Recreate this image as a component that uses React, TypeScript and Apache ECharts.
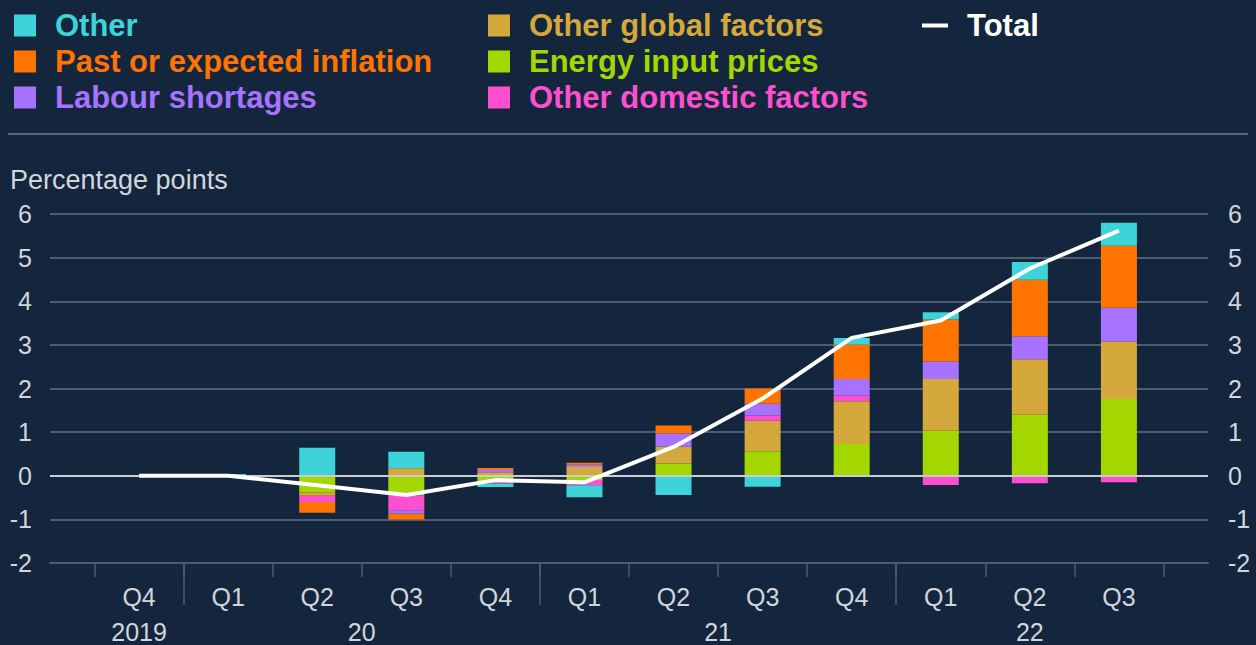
import React, { useEffect, useRef } from "react";
import * as echarts from "echarts";

// ---------- data ----------
const quarters = ["Q4", "Q1", "Q2", "Q3", "Q4", "Q1", "Q2", "Q3", "Q4", "Q1", "Q2", "Q3"];
const yearLabels = ["2019", "20", "21", "22"];
const yearCenters = [0, 2.5, 6.5, 10];
const yearBoundaries = [0.5, 4.5, 8.5];

const energyInputPrices = [0, 0, -0.38, -0.45, -0.12, -0.1, 0.28, 0.56, 0.73, 1.03, 1.4, 1.76];
const otherGlobalFactors = [0, 0, -0.08, 0.17, 0.08, 0.2, 0.39, 0.7, 0.98, 1.19, 1.27, 1.32];
const otherDomesticFactors = [0, 0, -0.14, -0.34, -0.06, -0.12, 0, 0.12, 0.13, -0.21, -0.17, -0.15];
const labourShortages = [0, 0, 0, -0.08, 0.05, 0.05, 0.3, 0.27, 0.38, 0.4, 0.53, 0.77];
const pastOrExpectedInflation = [0, -0.02, -0.25, -0.13, 0.05, 0.05, 0.18, 0.35, 0.79, 0.96, 1.29, 1.42];
const other = [0, 0.04, 0.64, 0.38, -0.08, -0.27, -0.44, -0.25, 0.15, 0.17, 0.41, 0.53];
const total = [0, 0, -0.22, -0.44, -0.1, -0.15, 0.66, 1.77, 3.16, 3.56, 4.75, 5.62];

const yMin = -2;
const yMax = 6;

// ---------- styles ----------
const BG = "#13263e";
const GRID = "#4c5c72";
const ZERO = "#c9ccd1";
const TXT = "#d2d5da";
const FONT = "'Liberation Sans', Arial, sans-serif";

const C_OTHER = "#3dd3d8";
const C_PAST = "#ff7300";
const C_LABOUR = "#a772ff";
const C_GLOBAL = "#d4a83b";
const C_ENERGY = "#a4d600";
const C_DOMESTIC = "#ff4fcf";

export default function App() {
  const ref = useRef<HTMLDivElement>(null);

  useEffect(() => {
    if (!ref.current) return;
    const chart = echarts.init(ref.current, undefined, { renderer: "svg" });

    const quarterTickPos = quarters.map((_, i) => i - 0.5).concat([quarters.length - 0.5]);
    const quarterLabelPos = quarters.map((_, i) => i);

    const gridTop = 214;
    const gridBottom = 82;
    const outerLeft = 50;
    const outerRight = 48;
    const slot = (1256 - outerLeft - outerRight) / (quarters.length + 1);

    const barSeries = (name: string, data: number[], color: string) => ({
      name,
      type: "bar",
      stack: "total",
      xAxisIndex: 2,
      yAxisIndex: 2,
      barWidth: 36,
      data,
      itemStyle: { color },
      z: 2,
    });

    const legendBase = {
      orient: "vertical",
      padding: 0,
      itemGap: 5,
      icon: "rect",
      selectedMode: false,
      textStyle: {
        fontFamily: FONT,
        fontSize: 31,
        fontWeight: "bold",
        lineHeight: 31,
        padding: [0, 0, 0, 14],
      },
    };

    const axisLabelStyle = { color: TXT, fontSize: 25, fontFamily: FONT };

    chart.setOption({
      animation: false,
      backgroundColor: BG,
      textStyle: { fontFamily: FONT },
      legend: [
        {
          ...legendBase,
          left: 14,
          top: 10,
          itemWidth: 22,
          itemHeight: 22,
          data: [
            { name: "Other", textStyle: { color: C_OTHER } },
            { name: "Past or expected inflation", textStyle: { color: C_PAST } },
            { name: "Labour shortages", textStyle: { color: C_LABOUR } },
          ],
        },
        {
          ...legendBase,
          left: 488,
          top: 10,
          itemWidth: 22,
          itemHeight: 22,
          data: [
            { name: "Other global factors", textStyle: { color: C_GLOBAL } },
            { name: "Energy input prices", textStyle: { color: C_ENERGY } },
            { name: "Other domestic factors", textStyle: { color: C_DOMESTIC } },
          ],
        },
        {
          ...legendBase,
          left: 922,
          top: 10,
          itemWidth: 26,
          itemHeight: 4,
          itemStyle: { color: "#ffffff" },
          data: [{ name: "Total", textStyle: { color: "#ffffff" } }],
        },
      ],
      graphic: [
        {
          type: "line",
          shape: { x1: 8, y1: 134, x2: 1248, y2: 134 },
          style: { stroke: "#56667d", lineWidth: 2 },
        },
        {
          type: "text",
          x: 10,
          y: 180,
          style: {
            text: "Percentage points",
            fill: TXT,
            font: `27px ${FONT}`,
            verticalAlign: "middle",
          },
        },
      ],
      grid: [
        { left: outerLeft, right: outerRight, top: gridTop, bottom: gridBottom },
        {
          left: outerLeft + slot / 2,
          right: outerRight + slot / 2,
          top: gridTop,
          bottom: gridBottom,
        },
      ],
      xAxis: [
        {
          type: "value",
          gridIndex: 0,
          min: -1,
          max: quarters.length,
          position: "bottom",
          splitLine: { show: false },
          axisLine: { show: true, onZero: false, lineStyle: { color: GRID, width: 2 } },
          axisTick: {
            show: true,
            customValues: quarterTickPos,
            length: 14,
            lineStyle: { color: GRID, width: 1.5 },
          },
          axisLabel: {
            ...axisLabelStyle,
            customValues: quarterLabelPos,
            formatter: (v: number) => quarters[Math.round(v)] ?? "",
            margin: 21,
          },
        },
        {
          type: "value",
          gridIndex: 0,
          min: -1,
          max: quarters.length,
          position: "bottom",
          splitLine: { show: false },
          axisLine: { show: false, onZero: false },
          axisTick: {
            show: true,
            customValues: yearBoundaries,
            length: 42,
            lineStyle: { color: GRID, width: 1.5 },
          },
          axisLabel: {
            ...axisLabelStyle,
            customValues: yearCenters,
            formatter: (v: number) => {
              const i = yearCenters.indexOf(v);
              return i >= 0 ? yearLabels[i] : "";
            },
            margin: 56,
          },
        },
        {
          type: "category",
          gridIndex: 1,
          data: quarters.map((q, i) => q + "_" + i),
          show: false,
          axisLine: { onZero: false },
        },
      ],
      yAxis: [
        {
          type: "value",
          gridIndex: 0,
          position: "left",
          min: yMin,
          max: yMax,
          interval: 1,
          axisLine: { show: false },
          axisTick: { show: false },
          axisLabel: { ...axisLabelStyle, margin: 18 },
          splitLine: { show: true, lineStyle: { color: GRID, width: 2 } },
        },
        {
          type: "value",
          gridIndex: 0,
          position: "right",
          min: yMin,
          max: yMax,
          interval: 1,
          axisLine: { show: false },
          axisTick: { show: false },
          axisLabel: { ...axisLabelStyle, margin: 20 },
          splitLine: { show: false },
        },
        {
          type: "value",
          gridIndex: 1,
          min: yMin,
          max: yMax,
          interval: 1,
          show: false,
          splitLine: { show: false },
        },
      ],
      series: [
        barSeries("Energy input prices", energyInputPrices, C_ENERGY),
        barSeries("Other global factors", otherGlobalFactors, C_GLOBAL),
        barSeries("Other domestic factors", otherDomesticFactors, C_DOMESTIC),
        barSeries("Labour shortages", labourShortages, C_LABOUR),
        barSeries("Past or expected inflation", pastOrExpectedInflation, C_PAST),
        barSeries("Other", other, C_OTHER),
        {
          name: "zero",
          type: "line",
          xAxisIndex: 0,
          yAxisIndex: 0,
          data: [],
          z: 3,
          markLine: {
            silent: true,
            symbol: ["none", "none"],
            label: { show: false },
            lineStyle: { color: ZERO, width: 2, type: "solid" },
            data: [{ yAxis: 0 }],
          },
        },
        {
          name: "Total",
          type: "line",
          xAxisIndex: 2,
          yAxisIndex: 2,
          data: total,
          symbol: "none",
          lineStyle: { color: "#ffffff", width: 4 },
          itemStyle: { color: "#ffffff" },
          z: 5,
        },
      ],
    });

    return () => chart.dispose();
  }, []);

  return (
    <div
      ref={ref}
      style={{ position: "absolute", left: 0, top: 0, width: 1256, height: 645 }}
    />
  );
}
